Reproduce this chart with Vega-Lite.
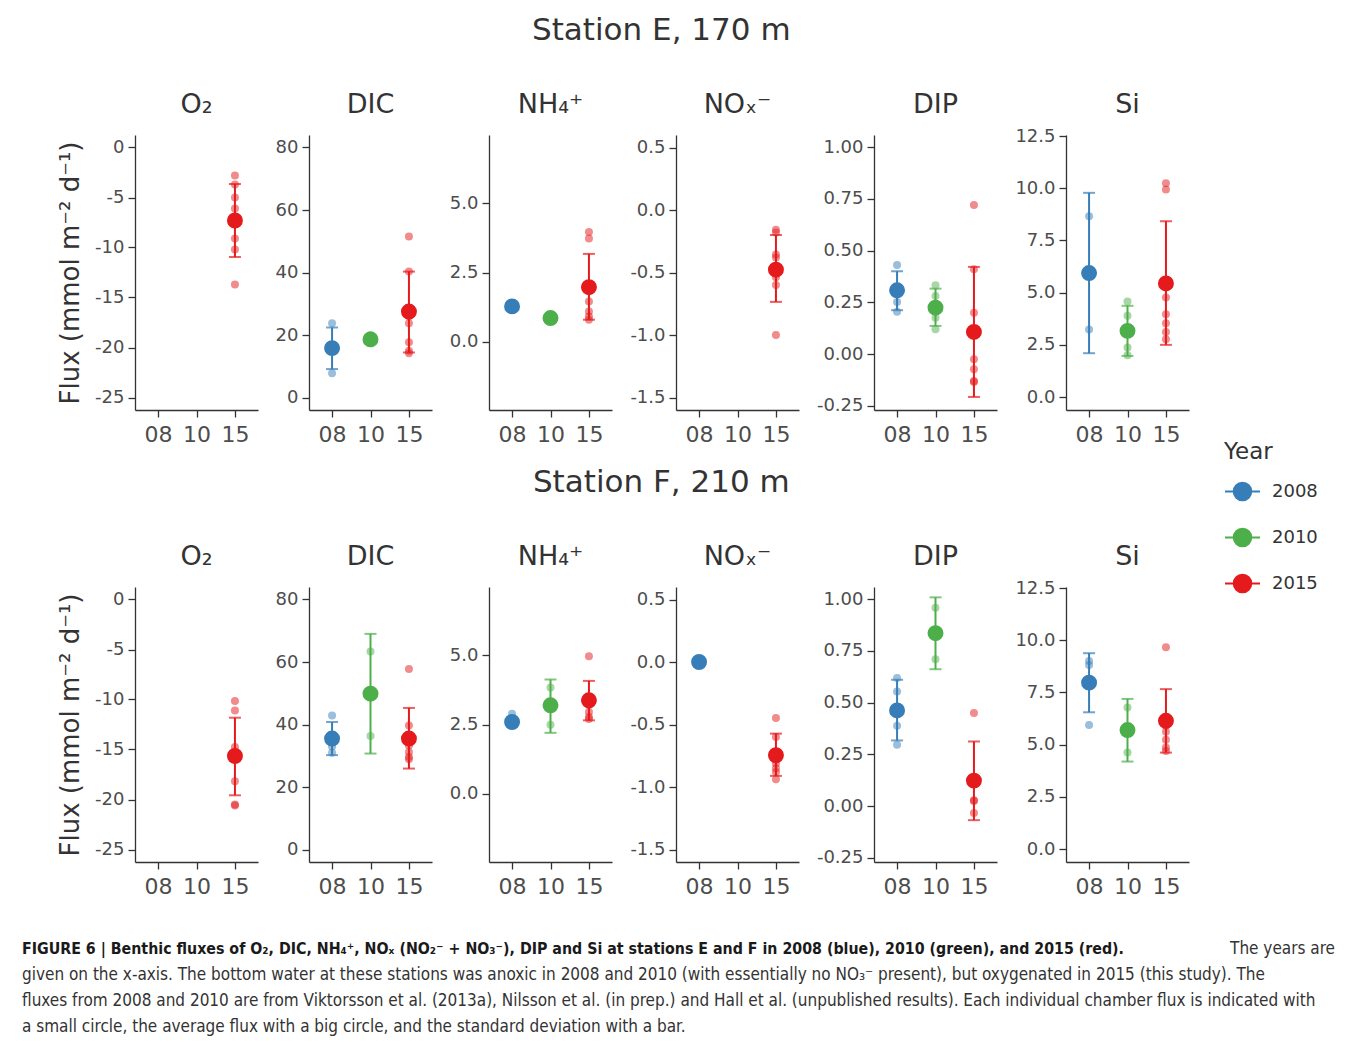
{
"$schema":"https://vega.github.io/schema/vega-lite/v6.json",
"padding":{"left":22,"top":15,"right":5,"bottom":5},
"datasets":{"flux":[
{"st":"E","v":"O2","yr":"15","Year":"2015","kind":"i","val":-2.8},
{"st":"E","v":"O2","yr":"15","Year":"2015","kind":"i","val":-3.7},
{"st":"E","v":"O2","yr":"15","Year":"2015","kind":"i","val":-5.0},
{"st":"E","v":"O2","yr":"15","Year":"2015","kind":"i","val":-6.1},
{"st":"E","v":"O2","yr":"15","Year":"2015","kind":"i","val":-9.1},
{"st":"E","v":"O2","yr":"15","Year":"2015","kind":"i","val":-10.2},
{"st":"E","v":"O2","yr":"15","Year":"2015","kind":"i","val":-13.7},
{"st":"E","v":"O2","yr":"15","Year":"2015","kind":"m","val":-7.3,"lo":-10.95,"hi":-3.65},
{"st":"E","v":"DIC","yr":"08","Year":"2008","kind":"i","val":23.8},
{"st":"E","v":"DIC","yr":"08","Year":"2008","kind":"i","val":16.5},
{"st":"E","v":"DIC","yr":"08","Year":"2008","kind":"i","val":15.2},
{"st":"E","v":"DIC","yr":"08","Year":"2008","kind":"i","val":7.8},
{"st":"E","v":"DIC","yr":"08","Year":"2008","kind":"m","val":15.8,"lo":9.1,"hi":22.4},
{"st":"E","v":"DIC","yr":"10","Year":"2010","kind":"i","val":20.0},
{"st":"E","v":"DIC","yr":"10","Year":"2010","kind":"i","val":18.6},
{"st":"E","v":"DIC","yr":"10","Year":"2010","kind":"i","val":17.4},
{"st":"E","v":"DIC","yr":"10","Year":"2010","kind":"m","val":18.6,"lo":17.3,"hi":19.9},
{"st":"E","v":"DIC","yr":"15","Year":"2015","kind":"i","val":51.5},
{"st":"E","v":"DIC","yr":"15","Year":"2015","kind":"i","val":40.3},
{"st":"E","v":"DIC","yr":"15","Year":"2015","kind":"i","val":26.0},
{"st":"E","v":"DIC","yr":"15","Year":"2015","kind":"i","val":23.8},
{"st":"E","v":"DIC","yr":"15","Year":"2015","kind":"i","val":17.7},
{"st":"E","v":"DIC","yr":"15","Year":"2015","kind":"i","val":15.0},
{"st":"E","v":"DIC","yr":"15","Year":"2015","kind":"i","val":14.2},
{"st":"E","v":"DIC","yr":"15","Year":"2015","kind":"m","val":27.5,"lo":14.4,"hi":40.3},
{"st":"E","v":"NH4","yr":"08","Year":"2008","kind":"i","val":1.15},
{"st":"E","v":"NH4","yr":"08","Year":"2008","kind":"i","val":1.3},
{"st":"E","v":"NH4","yr":"08","Year":"2008","kind":"i","val":1.4},
{"st":"E","v":"NH4","yr":"08","Year":"2008","kind":"m","val":1.28,"lo":1.15,"hi":1.4},
{"st":"E","v":"NH4","yr":"10","Year":"2010","kind":"i","val":0.8},
{"st":"E","v":"NH4","yr":"10","Year":"2010","kind":"i","val":0.86},
{"st":"E","v":"NH4","yr":"10","Year":"2010","kind":"i","val":0.92},
{"st":"E","v":"NH4","yr":"10","Year":"2010","kind":"m","val":0.86,"lo":0.8,"hi":0.92},
{"st":"E","v":"NH4","yr":"15","Year":"2015","kind":"i","val":3.96},
{"st":"E","v":"NH4","yr":"15","Year":"2015","kind":"i","val":3.72},
{"st":"E","v":"NH4","yr":"15","Year":"2015","kind":"i","val":1.46},
{"st":"E","v":"NH4","yr":"15","Year":"2015","kind":"i","val":1.1},
{"st":"E","v":"NH4","yr":"15","Year":"2015","kind":"i","val":0.92},
{"st":"E","v":"NH4","yr":"15","Year":"2015","kind":"i","val":0.8},
{"st":"E","v":"NH4","yr":"15","Year":"2015","kind":"m","val":1.97,"lo":0.8,"hi":3.17},
{"st":"E","v":"NOx","yr":"15","Year":"2015","kind":"i","val":-0.157},
{"st":"E","v":"NOx","yr":"15","Year":"2015","kind":"i","val":-0.18},
{"st":"E","v":"NOx","yr":"15","Year":"2015","kind":"i","val":-0.356},
{"st":"E","v":"NOx","yr":"15","Year":"2015","kind":"i","val":-0.38},
{"st":"E","v":"NOx","yr":"15","Year":"2015","kind":"i","val":-0.537},
{"st":"E","v":"NOx","yr":"15","Year":"2015","kind":"i","val":-0.6},
{"st":"E","v":"NOx","yr":"15","Year":"2015","kind":"i","val":-1.0},
{"st":"E","v":"NOx","yr":"15","Year":"2015","kind":"m","val":-0.477,"lo":-0.735,"hi":-0.2},
{"st":"E","v":"DIP","yr":"08","Year":"2008","kind":"i","val":0.43},
{"st":"E","v":"DIP","yr":"08","Year":"2008","kind":"i","val":0.31},
{"st":"E","v":"DIP","yr":"08","Year":"2008","kind":"i","val":0.252},
{"st":"E","v":"DIP","yr":"08","Year":"2008","kind":"i","val":0.205},
{"st":"E","v":"DIP","yr":"08","Year":"2008","kind":"m","val":0.308,"lo":0.212,"hi":0.4},
{"st":"E","v":"DIP","yr":"10","Year":"2010","kind":"i","val":0.333},
{"st":"E","v":"DIP","yr":"10","Year":"2010","kind":"i","val":0.281},
{"st":"E","v":"DIP","yr":"10","Year":"2010","kind":"i","val":0.21},
{"st":"E","v":"DIP","yr":"10","Year":"2010","kind":"i","val":0.176},
{"st":"E","v":"DIP","yr":"10","Year":"2010","kind":"i","val":0.12},
{"st":"E","v":"DIP","yr":"10","Year":"2010","kind":"m","val":0.224,"lo":0.136,"hi":0.316},
{"st":"E","v":"DIP","yr":"15","Year":"2015","kind":"i","val":0.72},
{"st":"E","v":"DIP","yr":"15","Year":"2015","kind":"i","val":0.41},
{"st":"E","v":"DIP","yr":"15","Year":"2015","kind":"i","val":0.2},
{"st":"E","v":"DIP","yr":"15","Year":"2015","kind":"i","val":-0.025},
{"st":"E","v":"DIP","yr":"15","Year":"2015","kind":"i","val":-0.073},
{"st":"E","v":"DIP","yr":"15","Year":"2015","kind":"i","val":-0.13},
{"st":"E","v":"DIP","yr":"15","Year":"2015","kind":"i","val":-0.135},
{"st":"E","v":"DIP","yr":"15","Year":"2015","kind":"m","val":0.107,"lo":-0.207,"hi":0.421},
{"st":"E","v":"Si","yr":"08","Year":"2008","kind":"i","val":8.66},
{"st":"E","v":"Si","yr":"08","Year":"2008","kind":"i","val":3.23},
{"st":"E","v":"Si","yr":"08","Year":"2008","kind":"m","val":5.94,"lo":2.1,"hi":9.78},
{"st":"E","v":"Si","yr":"10","Year":"2010","kind":"i","val":4.58},
{"st":"E","v":"Si","yr":"10","Year":"2010","kind":"i","val":3.89},
{"st":"E","v":"Si","yr":"10","Year":"2010","kind":"i","val":2.37},
{"st":"E","v":"Si","yr":"10","Year":"2010","kind":"i","val":2.0},
{"st":"E","v":"Si","yr":"10","Year":"2010","kind":"m","val":3.17,"lo":1.97,"hi":4.37},
{"st":"E","v":"Si","yr":"15","Year":"2015","kind":"i","val":10.24},
{"st":"E","v":"Si","yr":"15","Year":"2015","kind":"i","val":9.94},
{"st":"E","v":"Si","yr":"15","Year":"2015","kind":"i","val":4.77},
{"st":"E","v":"Si","yr":"15","Year":"2015","kind":"i","val":3.97},
{"st":"E","v":"Si","yr":"15","Year":"2015","kind":"i","val":3.54},
{"st":"E","v":"Si","yr":"15","Year":"2015","kind":"i","val":3.12},
{"st":"E","v":"Si","yr":"15","Year":"2015","kind":"i","val":2.77},
{"st":"E","v":"Si","yr":"15","Year":"2015","kind":"m","val":5.44,"lo":2.5,"hi":8.42},
{"st":"F","v":"O2","yr":"15","Year":"2015","kind":"i","val":-10.16},
{"st":"F","v":"O2","yr":"15","Year":"2015","kind":"i","val":-11.09},
{"st":"F","v":"O2","yr":"15","Year":"2015","kind":"i","val":-14.75},
{"st":"F","v":"O2","yr":"15","Year":"2015","kind":"i","val":-15.3},
{"st":"F","v":"O2","yr":"15","Year":"2015","kind":"i","val":-18.18},
{"st":"F","v":"O2","yr":"15","Year":"2015","kind":"i","val":-20.51},
{"st":"F","v":"O2","yr":"15","Year":"2015","kind":"i","val":-20.6},
{"st":"F","v":"O2","yr":"15","Year":"2015","kind":"m","val":-15.65,"lo":-19.58,"hi":-11.82},
{"st":"F","v":"DIC","yr":"08","Year":"2008","kind":"i","val":42.9},
{"st":"F","v":"DIC","yr":"08","Year":"2008","kind":"i","val":36.5},
{"st":"F","v":"DIC","yr":"08","Year":"2008","kind":"i","val":33.0},
{"st":"F","v":"DIC","yr":"08","Year":"2008","kind":"i","val":31.0},
{"st":"F","v":"DIC","yr":"08","Year":"2008","kind":"m","val":35.5,"lo":30.2,"hi":40.8},
{"st":"F","v":"DIC","yr":"10","Year":"2010","kind":"i","val":63.4},
{"st":"F","v":"DIC","yr":"10","Year":"2010","kind":"i","val":36.3},
{"st":"F","v":"DIC","yr":"10","Year":"2010","kind":"m","val":49.85,"lo":30.7,"hi":69.0},
{"st":"F","v":"DIC","yr":"15","Year":"2015","kind":"i","val":57.8},
{"st":"F","v":"DIC","yr":"15","Year":"2015","kind":"i","val":39.7},
{"st":"F","v":"DIC","yr":"15","Year":"2015","kind":"i","val":33.3},
{"st":"F","v":"DIC","yr":"15","Year":"2015","kind":"i","val":31.2},
{"st":"F","v":"DIC","yr":"15","Year":"2015","kind":"i","val":29.6},
{"st":"F","v":"DIC","yr":"15","Year":"2015","kind":"i","val":28.9},
{"st":"F","v":"DIC","yr":"15","Year":"2015","kind":"m","val":35.5,"lo":25.9,"hi":45.3},
{"st":"F","v":"NH4","yr":"08","Year":"2008","kind":"i","val":2.89},
{"st":"F","v":"NH4","yr":"08","Year":"2008","kind":"i","val":2.6},
{"st":"F","v":"NH4","yr":"08","Year":"2008","kind":"i","val":2.5},
{"st":"F","v":"NH4","yr":"08","Year":"2008","kind":"m","val":2.59,"lo":2.5,"hi":2.7},
{"st":"F","v":"NH4","yr":"10","Year":"2010","kind":"i","val":3.83},
{"st":"F","v":"NH4","yr":"10","Year":"2010","kind":"i","val":2.49},
{"st":"F","v":"NH4","yr":"10","Year":"2010","kind":"m","val":3.19,"lo":2.2,"hi":4.12},
{"st":"F","v":"NH4","yr":"15","Year":"2015","kind":"i","val":4.96},
{"st":"F","v":"NH4","yr":"15","Year":"2015","kind":"i","val":3.2},
{"st":"F","v":"NH4","yr":"15","Year":"2015","kind":"i","val":2.95},
{"st":"F","v":"NH4","yr":"15","Year":"2015","kind":"i","val":2.77},
{"st":"F","v":"NH4","yr":"15","Year":"2015","kind":"i","val":2.7},
{"st":"F","v":"NH4","yr":"15","Year":"2015","kind":"m","val":3.37,"lo":2.65,"hi":4.07},
{"st":"F","v":"NOx","yr":"08","Year":"2008","kind":"i","val":0.0},
{"st":"F","v":"NOx","yr":"08","Year":"2008","kind":"i","val":0.01},
{"st":"F","v":"NOx","yr":"08","Year":"2008","kind":"m","val":0.0,"lo":-0.01,"hi":0.01},
{"st":"F","v":"NOx","yr":"15","Year":"2015","kind":"i","val":-0.448},
{"st":"F","v":"NOx","yr":"15","Year":"2015","kind":"i","val":-0.6},
{"st":"F","v":"NOx","yr":"15","Year":"2015","kind":"i","val":-0.812},
{"st":"F","v":"NOx","yr":"15","Year":"2015","kind":"i","val":-0.85},
{"st":"F","v":"NOx","yr":"15","Year":"2015","kind":"i","val":-0.879},
{"st":"F","v":"NOx","yr":"15","Year":"2015","kind":"i","val":-0.938},
{"st":"F","v":"NOx","yr":"15","Year":"2015","kind":"m","val":-0.746,"lo":-0.911,"hi":-0.573},
{"st":"F","v":"DIP","yr":"08","Year":"2008","kind":"i","val":0.618},
{"st":"F","v":"DIP","yr":"08","Year":"2008","kind":"i","val":0.553},
{"st":"F","v":"DIP","yr":"08","Year":"2008","kind":"i","val":0.388},
{"st":"F","v":"DIP","yr":"08","Year":"2008","kind":"i","val":0.296},
{"st":"F","v":"DIP","yr":"08","Year":"2008","kind":"m","val":0.462,"lo":0.317,"hi":0.61},
{"st":"F","v":"DIP","yr":"10","Year":"2010","kind":"i","val":0.958},
{"st":"F","v":"DIP","yr":"10","Year":"2010","kind":"i","val":0.709},
{"st":"F","v":"DIP","yr":"10","Year":"2010","kind":"m","val":0.835,"lo":0.661,"hi":1.008},
{"st":"F","v":"DIP","yr":"15","Year":"2015","kind":"i","val":0.449},
{"st":"F","v":"DIP","yr":"15","Year":"2015","kind":"i","val":0.028},
{"st":"F","v":"DIP","yr":"15","Year":"2015","kind":"i","val":0.025},
{"st":"F","v":"DIP","yr":"15","Year":"2015","kind":"i","val":-0.033},
{"st":"F","v":"DIP","yr":"15","Year":"2015","kind":"m","val":0.123,"lo":-0.068,"hi":0.312},
{"st":"F","v":"Si","yr":"08","Year":"2008","kind":"i","val":9.01},
{"st":"F","v":"Si","yr":"08","Year":"2008","kind":"i","val":8.82},
{"st":"F","v":"Si","yr":"08","Year":"2008","kind":"i","val":8.1},
{"st":"F","v":"Si","yr":"08","Year":"2008","kind":"i","val":5.94},
{"st":"F","v":"Si","yr":"08","Year":"2008","kind":"m","val":7.97,"lo":6.55,"hi":9.38},
{"st":"F","v":"Si","yr":"10","Year":"2010","kind":"i","val":6.78},
{"st":"F","v":"Si","yr":"10","Year":"2010","kind":"i","val":4.62},
{"st":"F","v":"Si","yr":"10","Year":"2010","kind":"m","val":5.7,"lo":4.19,"hi":7.19},
{"st":"F","v":"Si","yr":"15","Year":"2015","kind":"i","val":9.67},
{"st":"F","v":"Si","yr":"15","Year":"2015","kind":"i","val":5.9},
{"st":"F","v":"Si","yr":"15","Year":"2015","kind":"i","val":5.62},
{"st":"F","v":"Si","yr":"15","Year":"2015","kind":"i","val":5.23},
{"st":"F","v":"Si","yr":"15","Year":"2015","kind":"i","val":4.86},
{"st":"F","v":"Si","yr":"15","Year":"2015","kind":"i","val":4.7},
{"st":"F","v":"Si","yr":"15","Year":"2015","kind":"m","val":6.14,"lo":4.62,"hi":7.66}
]},
"spacing":39,
"vconcat":[
{"data":{"name":"flux"},"spacing":22,"vconcat":[
{"title":{"text":"Station E, 170 m","fontSize":31,"anchor":"middle","offset":44,"frame":"bounds","dx":38},"spacing":17,"hconcat":[
{"title":"O₂","width":123,"height":275,"transform":[{"filter":"datum.st==='E' && datum.v==='O2'"}],
"encoding":{"x":{"field":"yr","type":"ordinal","scale":{"type":"point","padding":0.6,"domain":["08","10","15"]},"axis":{"title":null}},"color":{"field":"Year","type":"nominal","scale":{"domain":["2008","2010","2015"],"range":["#377EB8","#4DAF4A","#E41A1C"]},"legend":{"title":"Year","orient":"none","legendX":1089,"legendY":306,"symbolType":"M-1,0L-0.5,0M0.5,0L1,0M-0.5,0A0.5,0.5,0,1,1,0.5,0A0.5,0.5,0,1,1,-0.5,0Z","symbolSize":1225,"symbolStrokeWidth":2,"symbolOpacity":1,"rowPadding":14,"titlePadding":9,"labelOffset":11}}},
"layer":[
{"transform":[{"filter":"datum.kind==='m'"}],"mark":{"type":"rule","strokeWidth":2},"encoding":{"y":{"field":"lo","type":"quantitative","scale":{"domain":[-26.25,1.25],"nice":false,"zero":false},"axis":{"title":"Flux (mmol m⁻² d⁻¹)","values":[-25,-20,-15,-10,-5,0],"labelExpr":"replace(format(datum.value,'d'),'\u2212','-')"}},"y2":{"field":"hi"}}},
{"transform":[{"filter":"datum.kind==='m'"}],"mark":{"type":"tick","thickness":2,"size":12},"encoding":{"y":{"field":"lo","type":"quantitative","scale":{"domain":[-26.25,1.25],"nice":false,"zero":false},"axis":{"title":"Flux (mmol m⁻² d⁻¹)","values":[-25,-20,-15,-10,-5,0],"labelExpr":"replace(format(datum.value,'d'),'\u2212','-')"}}}},
{"transform":[{"filter":"datum.kind==='m'"}],"mark":{"type":"tick","thickness":2,"size":12},"encoding":{"y":{"field":"hi","type":"quantitative","scale":{"domain":[-26.25,1.25],"nice":false,"zero":false},"axis":{"title":"Flux (mmol m⁻² d⁻¹)","values":[-25,-20,-15,-10,-5,0],"labelExpr":"replace(format(datum.value,'d'),'\u2212','-')"}}}},
{"transform":[{"filter":"datum.kind==='i'"}],"mark":{"type":"circle","size":64,"opacity":0.5},"encoding":{"y":{"field":"val","type":"quantitative","scale":{"domain":[-26.25,1.25],"nice":false,"zero":false},"axis":{"title":"Flux (mmol m⁻² d⁻¹)","values":[-25,-20,-15,-10,-5,0],"labelExpr":"replace(format(datum.value,'d'),'\u2212','-')"}}}},
{"transform":[{"filter":"datum.kind==='m'"}],"mark":{"type":"circle","size":254,"opacity":1},"encoding":{"y":{"field":"val","type":"quantitative","scale":{"domain":[-26.25,1.25],"nice":false,"zero":false},"axis":{"title":"Flux (mmol m⁻² d⁻¹)","values":[-25,-20,-15,-10,-5,0],"labelExpr":"replace(format(datum.value,'d'),'\u2212','-')"}}}}
]},
{"title":"DIC","width":123,"height":275,"transform":[{"filter":"datum.st==='E' && datum.v==='DIC'"}],
"encoding":{"x":{"field":"yr","type":"ordinal","scale":{"type":"point","padding":0.6,"domain":["08","10","15"]},"axis":{"title":null}},"color":{"field":"Year","type":"nominal","scale":{"domain":["2008","2010","2015"],"range":["#377EB8","#4DAF4A","#E41A1C"]},"legend":null}},
"layer":[
{"transform":[{"filter":"datum.kind==='m'"}],"mark":{"type":"rule","strokeWidth":2},"encoding":{"y":{"field":"lo","type":"quantitative","scale":{"domain":[-4,84],"nice":false,"zero":false},"axis":{"title":null,"values":[0,20,40,60,80],"labelExpr":"replace(format(datum.value,'d'),'\u2212','-')"}},"y2":{"field":"hi"}}},
{"transform":[{"filter":"datum.kind==='m'"}],"mark":{"type":"tick","thickness":2,"size":12},"encoding":{"y":{"field":"lo","type":"quantitative","scale":{"domain":[-4,84],"nice":false,"zero":false},"axis":{"title":null,"values":[0,20,40,60,80],"labelExpr":"replace(format(datum.value,'d'),'\u2212','-')"}}}},
{"transform":[{"filter":"datum.kind==='m'"}],"mark":{"type":"tick","thickness":2,"size":12},"encoding":{"y":{"field":"hi","type":"quantitative","scale":{"domain":[-4,84],"nice":false,"zero":false},"axis":{"title":null,"values":[0,20,40,60,80],"labelExpr":"replace(format(datum.value,'d'),'\u2212','-')"}}}},
{"transform":[{"filter":"datum.kind==='i'"}],"mark":{"type":"circle","size":64,"opacity":0.5},"encoding":{"y":{"field":"val","type":"quantitative","scale":{"domain":[-4,84],"nice":false,"zero":false},"axis":{"title":null,"values":[0,20,40,60,80],"labelExpr":"replace(format(datum.value,'d'),'\u2212','-')"}}}},
{"transform":[{"filter":"datum.kind==='m'"}],"mark":{"type":"circle","size":254,"opacity":1},"encoding":{"y":{"field":"val","type":"quantitative","scale":{"domain":[-4,84],"nice":false,"zero":false},"axis":{"title":null,"values":[0,20,40,60,80],"labelExpr":"replace(format(datum.value,'d'),'\u2212','-')"}}}}
]},
{"title":"NH₄⁺","width":123,"height":275,"transform":[{"filter":"datum.st==='E' && datum.v==='NH4'"}],
"encoding":{"x":{"field":"yr","type":"ordinal","scale":{"type":"point","padding":0.6,"domain":["08","10","15"]},"axis":{"title":null}},"color":{"field":"Year","type":"nominal","scale":{"domain":["2008","2010","2015"],"range":["#377EB8","#4DAF4A","#E41A1C"]},"legend":null}},
"layer":[
{"transform":[{"filter":"datum.kind==='m'"}],"mark":{"type":"rule","strokeWidth":2},"encoding":{"y":{"field":"lo","type":"quantitative","scale":{"domain":[-2.45,7.45],"nice":false,"zero":false},"axis":{"title":null,"values":[0,2.5,5],"labelExpr":"replace(format(datum.value,'.1f'),'\u2212','-')"}},"y2":{"field":"hi"}}},
{"transform":[{"filter":"datum.kind==='m'"}],"mark":{"type":"tick","thickness":2,"size":12},"encoding":{"y":{"field":"lo","type":"quantitative","scale":{"domain":[-2.45,7.45],"nice":false,"zero":false},"axis":{"title":null,"values":[0,2.5,5],"labelExpr":"replace(format(datum.value,'.1f'),'\u2212','-')"}}}},
{"transform":[{"filter":"datum.kind==='m'"}],"mark":{"type":"tick","thickness":2,"size":12},"encoding":{"y":{"field":"hi","type":"quantitative","scale":{"domain":[-2.45,7.45],"nice":false,"zero":false},"axis":{"title":null,"values":[0,2.5,5],"labelExpr":"replace(format(datum.value,'.1f'),'\u2212','-')"}}}},
{"transform":[{"filter":"datum.kind==='i'"}],"mark":{"type":"circle","size":64,"opacity":0.5},"encoding":{"y":{"field":"val","type":"quantitative","scale":{"domain":[-2.45,7.45],"nice":false,"zero":false},"axis":{"title":null,"values":[0,2.5,5],"labelExpr":"replace(format(datum.value,'.1f'),'\u2212','-')"}}}},
{"transform":[{"filter":"datum.kind==='m'"}],"mark":{"type":"circle","size":254,"opacity":1},"encoding":{"y":{"field":"val","type":"quantitative","scale":{"domain":[-2.45,7.45],"nice":false,"zero":false},"axis":{"title":null,"values":[0,2.5,5],"labelExpr":"replace(format(datum.value,'.1f'),'\u2212','-')"}}}}
]},
{"title":"NOₓ⁻","width":123,"height":275,"transform":[{"filter":"datum.st==='E' && datum.v==='NOx'"}],
"encoding":{"x":{"field":"yr","type":"ordinal","scale":{"type":"point","padding":0.6,"domain":["08","10","15"]},"axis":{"title":null}},"color":{"field":"Year","type":"nominal","scale":{"domain":["2008","2010","2015"],"range":["#377EB8","#4DAF4A","#E41A1C"]},"legend":null}},
"layer":[
{"transform":[{"filter":"datum.kind==='m'"}],"mark":{"type":"rule","strokeWidth":2},"encoding":{"y":{"field":"lo","type":"quantitative","scale":{"domain":[-1.6,0.6],"nice":false,"zero":false},"axis":{"title":null,"values":[-1.5,-1,-0.5,0,0.5],"labelExpr":"replace(format(datum.value,'.1f'),'\u2212','-')"}},"y2":{"field":"hi"}}},
{"transform":[{"filter":"datum.kind==='m'"}],"mark":{"type":"tick","thickness":2,"size":12},"encoding":{"y":{"field":"lo","type":"quantitative","scale":{"domain":[-1.6,0.6],"nice":false,"zero":false},"axis":{"title":null,"values":[-1.5,-1,-0.5,0,0.5],"labelExpr":"replace(format(datum.value,'.1f'),'\u2212','-')"}}}},
{"transform":[{"filter":"datum.kind==='m'"}],"mark":{"type":"tick","thickness":2,"size":12},"encoding":{"y":{"field":"hi","type":"quantitative","scale":{"domain":[-1.6,0.6],"nice":false,"zero":false},"axis":{"title":null,"values":[-1.5,-1,-0.5,0,0.5],"labelExpr":"replace(format(datum.value,'.1f'),'\u2212','-')"}}}},
{"transform":[{"filter":"datum.kind==='i'"}],"mark":{"type":"circle","size":64,"opacity":0.5},"encoding":{"y":{"field":"val","type":"quantitative","scale":{"domain":[-1.6,0.6],"nice":false,"zero":false},"axis":{"title":null,"values":[-1.5,-1,-0.5,0,0.5],"labelExpr":"replace(format(datum.value,'.1f'),'\u2212','-')"}}}},
{"transform":[{"filter":"datum.kind==='m'"}],"mark":{"type":"circle","size":254,"opacity":1},"encoding":{"y":{"field":"val","type":"quantitative","scale":{"domain":[-1.6,0.6],"nice":false,"zero":false},"axis":{"title":null,"values":[-1.5,-1,-0.5,0,0.5],"labelExpr":"replace(format(datum.value,'.1f'),'\u2212','-')"}}}}
]},
{"title":"DIP","width":123,"height":275,"transform":[{"filter":"datum.st==='E' && datum.v==='DIP'"}],
"encoding":{"x":{"field":"yr","type":"ordinal","scale":{"type":"point","padding":0.6,"domain":["08","10","15"]},"axis":{"title":null}},"color":{"field":"Year","type":"nominal","scale":{"domain":["2008","2010","2015"],"range":["#377EB8","#4DAF4A","#E41A1C"]},"legend":null}},
"layer":[
{"transform":[{"filter":"datum.kind==='m'"}],"mark":{"type":"rule","strokeWidth":2},"encoding":{"y":{"field":"lo","type":"quantitative","scale":{"domain":[-0.27,1.058],"nice":false,"zero":false},"axis":{"title":null,"values":[-0.25,0,0.25,0.5,0.75,1],"labelExpr":"replace(format(datum.value,'.2f'),'\u2212','-')"}},"y2":{"field":"hi"}}},
{"transform":[{"filter":"datum.kind==='m'"}],"mark":{"type":"tick","thickness":2,"size":12},"encoding":{"y":{"field":"lo","type":"quantitative","scale":{"domain":[-0.27,1.058],"nice":false,"zero":false},"axis":{"title":null,"values":[-0.25,0,0.25,0.5,0.75,1],"labelExpr":"replace(format(datum.value,'.2f'),'\u2212','-')"}}}},
{"transform":[{"filter":"datum.kind==='m'"}],"mark":{"type":"tick","thickness":2,"size":12},"encoding":{"y":{"field":"hi","type":"quantitative","scale":{"domain":[-0.27,1.058],"nice":false,"zero":false},"axis":{"title":null,"values":[-0.25,0,0.25,0.5,0.75,1],"labelExpr":"replace(format(datum.value,'.2f'),'\u2212','-')"}}}},
{"transform":[{"filter":"datum.kind==='i'"}],"mark":{"type":"circle","size":64,"opacity":0.5},"encoding":{"y":{"field":"val","type":"quantitative","scale":{"domain":[-0.27,1.058],"nice":false,"zero":false},"axis":{"title":null,"values":[-0.25,0,0.25,0.5,0.75,1],"labelExpr":"replace(format(datum.value,'.2f'),'\u2212','-')"}}}},
{"transform":[{"filter":"datum.kind==='m'"}],"mark":{"type":"circle","size":254,"opacity":1},"encoding":{"y":{"field":"val","type":"quantitative","scale":{"domain":[-0.27,1.058],"nice":false,"zero":false},"axis":{"title":null,"values":[-0.25,0,0.25,0.5,0.75,1],"labelExpr":"replace(format(datum.value,'.2f'),'\u2212','-')"}}}}
]},
{"title":{"text":"Si","offset":8},"width":123,"height":275,"transform":[{"filter":"datum.st==='E' && datum.v==='Si'"}],
"encoding":{"x":{"field":"yr","type":"ordinal","scale":{"type":"point","padding":0.6,"domain":["08","10","15"]},"axis":{"title":null}},"color":{"field":"Year","type":"nominal","scale":{"domain":["2008","2010","2015"],"range":["#377EB8","#4DAF4A","#E41A1C"]},"legend":null}},
"layer":[
{"transform":[{"filter":"datum.kind==='m'"}],"mark":{"type":"rule","strokeWidth":2},"encoding":{"y":{"field":"lo","type":"quantitative","scale":{"domain":[-0.62,12.55],"nice":false,"zero":false},"axis":{"title":null,"values":[0,2.5,5,7.5,10,12.5],"labelExpr":"replace(format(datum.value,'.1f'),'\u2212','-')"}},"y2":{"field":"hi"}}},
{"transform":[{"filter":"datum.kind==='m'"}],"mark":{"type":"tick","thickness":2,"size":12},"encoding":{"y":{"field":"lo","type":"quantitative","scale":{"domain":[-0.62,12.55],"nice":false,"zero":false},"axis":{"title":null,"values":[0,2.5,5,7.5,10,12.5],"labelExpr":"replace(format(datum.value,'.1f'),'\u2212','-')"}}}},
{"transform":[{"filter":"datum.kind==='m'"}],"mark":{"type":"tick","thickness":2,"size":12},"encoding":{"y":{"field":"hi","type":"quantitative","scale":{"domain":[-0.62,12.55],"nice":false,"zero":false},"axis":{"title":null,"values":[0,2.5,5,7.5,10,12.5],"labelExpr":"replace(format(datum.value,'.1f'),'\u2212','-')"}}}},
{"transform":[{"filter":"datum.kind==='i'"}],"mark":{"type":"circle","size":64,"opacity":0.5},"encoding":{"y":{"field":"val","type":"quantitative","scale":{"domain":[-0.62,12.55],"nice":false,"zero":false},"axis":{"title":null,"values":[0,2.5,5,7.5,10,12.5],"labelExpr":"replace(format(datum.value,'.1f'),'\u2212','-')"}}}},
{"transform":[{"filter":"datum.kind==='m'"}],"mark":{"type":"circle","size":254,"opacity":1},"encoding":{"y":{"field":"val","type":"quantitative","scale":{"domain":[-0.62,12.55],"nice":false,"zero":false},"axis":{"title":null,"values":[0,2.5,5,7.5,10,12.5],"labelExpr":"replace(format(datum.value,'.1f'),'\u2212','-')"}}}}
]}
]},
{"title":{"text":"Station F, 210 m","fontSize":31,"anchor":"middle","offset":44,"frame":"bounds","dx":38},"spacing":17,"hconcat":[
{"title":"O₂","width":123,"height":275,"transform":[{"filter":"datum.st==='F' && datum.v==='O2'"}],
"encoding":{"x":{"field":"yr","type":"ordinal","scale":{"type":"point","padding":0.6,"domain":["08","10","15"]},"axis":{"title":null}},"color":{"field":"Year","type":"nominal","scale":{"domain":["2008","2010","2015"],"range":["#377EB8","#4DAF4A","#E41A1C"]},"legend":null}},
"layer":[
{"transform":[{"filter":"datum.kind==='m'"}],"mark":{"type":"rule","strokeWidth":2},"encoding":{"y":{"field":"lo","type":"quantitative","scale":{"domain":[-26.25,1.25],"nice":false,"zero":false},"axis":{"title":"Flux (mmol m⁻² d⁻¹)","values":[-25,-20,-15,-10,-5,0],"labelExpr":"replace(format(datum.value,'d'),'\u2212','-')"}},"y2":{"field":"hi"}}},
{"transform":[{"filter":"datum.kind==='m'"}],"mark":{"type":"tick","thickness":2,"size":12},"encoding":{"y":{"field":"lo","type":"quantitative","scale":{"domain":[-26.25,1.25],"nice":false,"zero":false},"axis":{"title":"Flux (mmol m⁻² d⁻¹)","values":[-25,-20,-15,-10,-5,0],"labelExpr":"replace(format(datum.value,'d'),'\u2212','-')"}}}},
{"transform":[{"filter":"datum.kind==='m'"}],"mark":{"type":"tick","thickness":2,"size":12},"encoding":{"y":{"field":"hi","type":"quantitative","scale":{"domain":[-26.25,1.25],"nice":false,"zero":false},"axis":{"title":"Flux (mmol m⁻² d⁻¹)","values":[-25,-20,-15,-10,-5,0],"labelExpr":"replace(format(datum.value,'d'),'\u2212','-')"}}}},
{"transform":[{"filter":"datum.kind==='i'"}],"mark":{"type":"circle","size":64,"opacity":0.5},"encoding":{"y":{"field":"val","type":"quantitative","scale":{"domain":[-26.25,1.25],"nice":false,"zero":false},"axis":{"title":"Flux (mmol m⁻² d⁻¹)","values":[-25,-20,-15,-10,-5,0],"labelExpr":"replace(format(datum.value,'d'),'\u2212','-')"}}}},
{"transform":[{"filter":"datum.kind==='m'"}],"mark":{"type":"circle","size":254,"opacity":1},"encoding":{"y":{"field":"val","type":"quantitative","scale":{"domain":[-26.25,1.25],"nice":false,"zero":false},"axis":{"title":"Flux (mmol m⁻² d⁻¹)","values":[-25,-20,-15,-10,-5,0],"labelExpr":"replace(format(datum.value,'d'),'\u2212','-')"}}}}
]},
{"title":"DIC","width":123,"height":275,"transform":[{"filter":"datum.st==='F' && datum.v==='DIC'"}],
"encoding":{"x":{"field":"yr","type":"ordinal","scale":{"type":"point","padding":0.6,"domain":["08","10","15"]},"axis":{"title":null}},"color":{"field":"Year","type":"nominal","scale":{"domain":["2008","2010","2015"],"range":["#377EB8","#4DAF4A","#E41A1C"]},"legend":null}},
"layer":[
{"transform":[{"filter":"datum.kind==='m'"}],"mark":{"type":"rule","strokeWidth":2},"encoding":{"y":{"field":"lo","type":"quantitative","scale":{"domain":[-4,84],"nice":false,"zero":false},"axis":{"title":null,"values":[0,20,40,60,80],"labelExpr":"replace(format(datum.value,'d'),'\u2212','-')"}},"y2":{"field":"hi"}}},
{"transform":[{"filter":"datum.kind==='m'"}],"mark":{"type":"tick","thickness":2,"size":12},"encoding":{"y":{"field":"lo","type":"quantitative","scale":{"domain":[-4,84],"nice":false,"zero":false},"axis":{"title":null,"values":[0,20,40,60,80],"labelExpr":"replace(format(datum.value,'d'),'\u2212','-')"}}}},
{"transform":[{"filter":"datum.kind==='m'"}],"mark":{"type":"tick","thickness":2,"size":12},"encoding":{"y":{"field":"hi","type":"quantitative","scale":{"domain":[-4,84],"nice":false,"zero":false},"axis":{"title":null,"values":[0,20,40,60,80],"labelExpr":"replace(format(datum.value,'d'),'\u2212','-')"}}}},
{"transform":[{"filter":"datum.kind==='i'"}],"mark":{"type":"circle","size":64,"opacity":0.5},"encoding":{"y":{"field":"val","type":"quantitative","scale":{"domain":[-4,84],"nice":false,"zero":false},"axis":{"title":null,"values":[0,20,40,60,80],"labelExpr":"replace(format(datum.value,'d'),'\u2212','-')"}}}},
{"transform":[{"filter":"datum.kind==='m'"}],"mark":{"type":"circle","size":254,"opacity":1},"encoding":{"y":{"field":"val","type":"quantitative","scale":{"domain":[-4,84],"nice":false,"zero":false},"axis":{"title":null,"values":[0,20,40,60,80],"labelExpr":"replace(format(datum.value,'d'),'\u2212','-')"}}}}
]},
{"title":"NH₄⁺","width":123,"height":275,"transform":[{"filter":"datum.st==='F' && datum.v==='NH4'"}],
"encoding":{"x":{"field":"yr","type":"ordinal","scale":{"type":"point","padding":0.6,"domain":["08","10","15"]},"axis":{"title":null}},"color":{"field":"Year","type":"nominal","scale":{"domain":["2008","2010","2015"],"range":["#377EB8","#4DAF4A","#E41A1C"]},"legend":null}},
"layer":[
{"transform":[{"filter":"datum.kind==='m'"}],"mark":{"type":"rule","strokeWidth":2},"encoding":{"y":{"field":"lo","type":"quantitative","scale":{"domain":[-2.45,7.45],"nice":false,"zero":false},"axis":{"title":null,"values":[0,2.5,5],"labelExpr":"replace(format(datum.value,'.1f'),'\u2212','-')"}},"y2":{"field":"hi"}}},
{"transform":[{"filter":"datum.kind==='m'"}],"mark":{"type":"tick","thickness":2,"size":12},"encoding":{"y":{"field":"lo","type":"quantitative","scale":{"domain":[-2.45,7.45],"nice":false,"zero":false},"axis":{"title":null,"values":[0,2.5,5],"labelExpr":"replace(format(datum.value,'.1f'),'\u2212','-')"}}}},
{"transform":[{"filter":"datum.kind==='m'"}],"mark":{"type":"tick","thickness":2,"size":12},"encoding":{"y":{"field":"hi","type":"quantitative","scale":{"domain":[-2.45,7.45],"nice":false,"zero":false},"axis":{"title":null,"values":[0,2.5,5],"labelExpr":"replace(format(datum.value,'.1f'),'\u2212','-')"}}}},
{"transform":[{"filter":"datum.kind==='i'"}],"mark":{"type":"circle","size":64,"opacity":0.5},"encoding":{"y":{"field":"val","type":"quantitative","scale":{"domain":[-2.45,7.45],"nice":false,"zero":false},"axis":{"title":null,"values":[0,2.5,5],"labelExpr":"replace(format(datum.value,'.1f'),'\u2212','-')"}}}},
{"transform":[{"filter":"datum.kind==='m'"}],"mark":{"type":"circle","size":254,"opacity":1},"encoding":{"y":{"field":"val","type":"quantitative","scale":{"domain":[-2.45,7.45],"nice":false,"zero":false},"axis":{"title":null,"values":[0,2.5,5],"labelExpr":"replace(format(datum.value,'.1f'),'\u2212','-')"}}}}
]},
{"title":"NOₓ⁻","width":123,"height":275,"transform":[{"filter":"datum.st==='F' && datum.v==='NOx'"}],
"encoding":{"x":{"field":"yr","type":"ordinal","scale":{"type":"point","padding":0.6,"domain":["08","10","15"]},"axis":{"title":null}},"color":{"field":"Year","type":"nominal","scale":{"domain":["2008","2010","2015"],"range":["#377EB8","#4DAF4A","#E41A1C"]},"legend":null}},
"layer":[
{"transform":[{"filter":"datum.kind==='m'"}],"mark":{"type":"rule","strokeWidth":2},"encoding":{"y":{"field":"lo","type":"quantitative","scale":{"domain":[-1.6,0.6],"nice":false,"zero":false},"axis":{"title":null,"values":[-1.5,-1,-0.5,0,0.5],"labelExpr":"replace(format(datum.value,'.1f'),'\u2212','-')"}},"y2":{"field":"hi"}}},
{"transform":[{"filter":"datum.kind==='m'"}],"mark":{"type":"tick","thickness":2,"size":12},"encoding":{"y":{"field":"lo","type":"quantitative","scale":{"domain":[-1.6,0.6],"nice":false,"zero":false},"axis":{"title":null,"values":[-1.5,-1,-0.5,0,0.5],"labelExpr":"replace(format(datum.value,'.1f'),'\u2212','-')"}}}},
{"transform":[{"filter":"datum.kind==='m'"}],"mark":{"type":"tick","thickness":2,"size":12},"encoding":{"y":{"field":"hi","type":"quantitative","scale":{"domain":[-1.6,0.6],"nice":false,"zero":false},"axis":{"title":null,"values":[-1.5,-1,-0.5,0,0.5],"labelExpr":"replace(format(datum.value,'.1f'),'\u2212','-')"}}}},
{"transform":[{"filter":"datum.kind==='i'"}],"mark":{"type":"circle","size":64,"opacity":0.5},"encoding":{"y":{"field":"val","type":"quantitative","scale":{"domain":[-1.6,0.6],"nice":false,"zero":false},"axis":{"title":null,"values":[-1.5,-1,-0.5,0,0.5],"labelExpr":"replace(format(datum.value,'.1f'),'\u2212','-')"}}}},
{"transform":[{"filter":"datum.kind==='m'"}],"mark":{"type":"circle","size":254,"opacity":1},"encoding":{"y":{"field":"val","type":"quantitative","scale":{"domain":[-1.6,0.6],"nice":false,"zero":false},"axis":{"title":null,"values":[-1.5,-1,-0.5,0,0.5],"labelExpr":"replace(format(datum.value,'.1f'),'\u2212','-')"}}}}
]},
{"title":"DIP","width":123,"height":275,"transform":[{"filter":"datum.st==='F' && datum.v==='DIP'"}],
"encoding":{"x":{"field":"yr","type":"ordinal","scale":{"type":"point","padding":0.6,"domain":["08","10","15"]},"axis":{"title":null}},"color":{"field":"Year","type":"nominal","scale":{"domain":["2008","2010","2015"],"range":["#377EB8","#4DAF4A","#E41A1C"]},"legend":null}},
"layer":[
{"transform":[{"filter":"datum.kind==='m'"}],"mark":{"type":"rule","strokeWidth":2},"encoding":{"y":{"field":"lo","type":"quantitative","scale":{"domain":[-0.27,1.058],"nice":false,"zero":false},"axis":{"title":null,"values":[-0.25,0,0.25,0.5,0.75,1],"labelExpr":"replace(format(datum.value,'.2f'),'\u2212','-')"}},"y2":{"field":"hi"}}},
{"transform":[{"filter":"datum.kind==='m'"}],"mark":{"type":"tick","thickness":2,"size":12},"encoding":{"y":{"field":"lo","type":"quantitative","scale":{"domain":[-0.27,1.058],"nice":false,"zero":false},"axis":{"title":null,"values":[-0.25,0,0.25,0.5,0.75,1],"labelExpr":"replace(format(datum.value,'.2f'),'\u2212','-')"}}}},
{"transform":[{"filter":"datum.kind==='m'"}],"mark":{"type":"tick","thickness":2,"size":12},"encoding":{"y":{"field":"hi","type":"quantitative","scale":{"domain":[-0.27,1.058],"nice":false,"zero":false},"axis":{"title":null,"values":[-0.25,0,0.25,0.5,0.75,1],"labelExpr":"replace(format(datum.value,'.2f'),'\u2212','-')"}}}},
{"transform":[{"filter":"datum.kind==='i'"}],"mark":{"type":"circle","size":64,"opacity":0.5},"encoding":{"y":{"field":"val","type":"quantitative","scale":{"domain":[-0.27,1.058],"nice":false,"zero":false},"axis":{"title":null,"values":[-0.25,0,0.25,0.5,0.75,1],"labelExpr":"replace(format(datum.value,'.2f'),'\u2212','-')"}}}},
{"transform":[{"filter":"datum.kind==='m'"}],"mark":{"type":"circle","size":254,"opacity":1},"encoding":{"y":{"field":"val","type":"quantitative","scale":{"domain":[-0.27,1.058],"nice":false,"zero":false},"axis":{"title":null,"values":[-0.25,0,0.25,0.5,0.75,1],"labelExpr":"replace(format(datum.value,'.2f'),'\u2212','-')"}}}}
]},
{"title":{"text":"Si","offset":8},"width":123,"height":275,"transform":[{"filter":"datum.st==='F' && datum.v==='Si'"}],
"encoding":{"x":{"field":"yr","type":"ordinal","scale":{"type":"point","padding":0.6,"domain":["08","10","15"]},"axis":{"title":null}},"color":{"field":"Year","type":"nominal","scale":{"domain":["2008","2010","2015"],"range":["#377EB8","#4DAF4A","#E41A1C"]},"legend":null}},
"layer":[
{"transform":[{"filter":"datum.kind==='m'"}],"mark":{"type":"rule","strokeWidth":2},"encoding":{"y":{"field":"lo","type":"quantitative","scale":{"domain":[-0.62,12.55],"nice":false,"zero":false},"axis":{"title":null,"values":[0,2.5,5,7.5,10,12.5],"labelExpr":"replace(format(datum.value,'.1f'),'\u2212','-')"}},"y2":{"field":"hi"}}},
{"transform":[{"filter":"datum.kind==='m'"}],"mark":{"type":"tick","thickness":2,"size":12},"encoding":{"y":{"field":"lo","type":"quantitative","scale":{"domain":[-0.62,12.55],"nice":false,"zero":false},"axis":{"title":null,"values":[0,2.5,5,7.5,10,12.5],"labelExpr":"replace(format(datum.value,'.1f'),'\u2212','-')"}}}},
{"transform":[{"filter":"datum.kind==='m'"}],"mark":{"type":"tick","thickness":2,"size":12},"encoding":{"y":{"field":"hi","type":"quantitative","scale":{"domain":[-0.62,12.55],"nice":false,"zero":false},"axis":{"title":null,"values":[0,2.5,5,7.5,10,12.5],"labelExpr":"replace(format(datum.value,'.1f'),'\u2212','-')"}}}},
{"transform":[{"filter":"datum.kind==='i'"}],"mark":{"type":"circle","size":64,"opacity":0.5},"encoding":{"y":{"field":"val","type":"quantitative","scale":{"domain":[-0.62,12.55],"nice":false,"zero":false},"axis":{"title":null,"values":[0,2.5,5,7.5,10,12.5],"labelExpr":"replace(format(datum.value,'.1f'),'\u2212','-')"}}}},
{"transform":[{"filter":"datum.kind==='m'"}],"mark":{"type":"circle","size":254,"opacity":1},"encoding":{"y":{"field":"val","type":"quantitative","scale":{"domain":[-0.62,12.55],"nice":false,"zero":false},"axis":{"title":null,"values":[0,2.5,5,7.5,10,12.5],"labelExpr":"replace(format(datum.value,'.1f'),'\u2212','-')"}}}}
]}
]}
]},
{"width":1313,"height":104,
"data":{"values":[
{"line":1,"part":"b","pos":0,"txt":"FIGURE 6 | Benthic fluxes of O₂, DIC, NH₄⁺, NOₓ (NO₂⁻ + NO₃⁻), DIP and Si at stations E and F in 2008 (blue), 2010 (green), and 2015 (red)."},
{"line":1,"part":"r","pos":1,"txt":"The years are"},
{"line":2,"part":"n","pos":0,"txt":"given on the x-axis. The bottom water at these stations was anoxic in 2008 and 2010 (with essentially no NO₃⁻ present), but oxygenated in 2015 (this study). The"},
{"line":3,"part":"n","pos":0,"txt":"fluxes from 2008 and 2010 are from Viktorsson et al. (2013a), Nilsson et al. (in prep.) and Hall et al. (unpublished results). Each individual chamber flux is indicated with"},
{"line":4,"part":"n","pos":0,"txt":"a small circle, the average flux with a big circle, and the standard deviation with a bar."}
]},
"encoding":{"x":{"field":"pos","type":"quantitative","scale":{"domain":[0,1],"nice":false,"zero":false},"axis":null},"y":{"field":"line","type":"ordinal","scale":{"type":"point","padding":0.5},"axis":null},"text":{"field":"txt"}},
"layer":[
{"transform":[{"filter":"datum.part==='b'"}],"mark":{"type":"text","align":"left","baseline":"middle","dx":-113,"font":"DejaVu Sans Condensed, Liberation Sans","fontSize":15.8,"fontWeight":"bold","color":"#1a1a1a"}},
{"transform":[{"filter":"datum.part==='r'"}],"mark":{"type":"text","align":"right","baseline":"middle","dx":-113,"font":"DejaVu Sans Condensed, Liberation Sans","fontSize":17,"color":"#333333"}},
{"transform":[{"filter":"datum.part==='n'"}],"mark":{"type":"text","align":"left","baseline":"middle","dx":-113,"font":"DejaVu Sans Condensed, Liberation Sans","fontSize":17,"color":"#333333"}}
]}
],
"config":{
"font":"DejaVu Sans",
"view":{"stroke":null},
"axis":{"grid":false,"domainColor":"#333333","domainWidth":1.3,"tickColor":"#333333","tickWidth":1.3,"tickSize":7,"labelColor":"#4d4d4d","titleFontWeight":"normal","titleColor":"#333333","titleFontSize":26},
"axisX":{"labelFontSize":22,"labelAngle":0,"labelPadding":7},
"axisY":{"labelFontSize":18,"labelPadding":4,"titlePadding":11},
"title":{"fontSize":27,"fontWeight":"normal","color":"#333333","offset":16,"frame":"group"},
"legend":{"titleFontSize":23,"titleFontWeight":"normal","titleColor":"#333333","labelFontSize":18,"labelColor":"#333333"}
}
}
